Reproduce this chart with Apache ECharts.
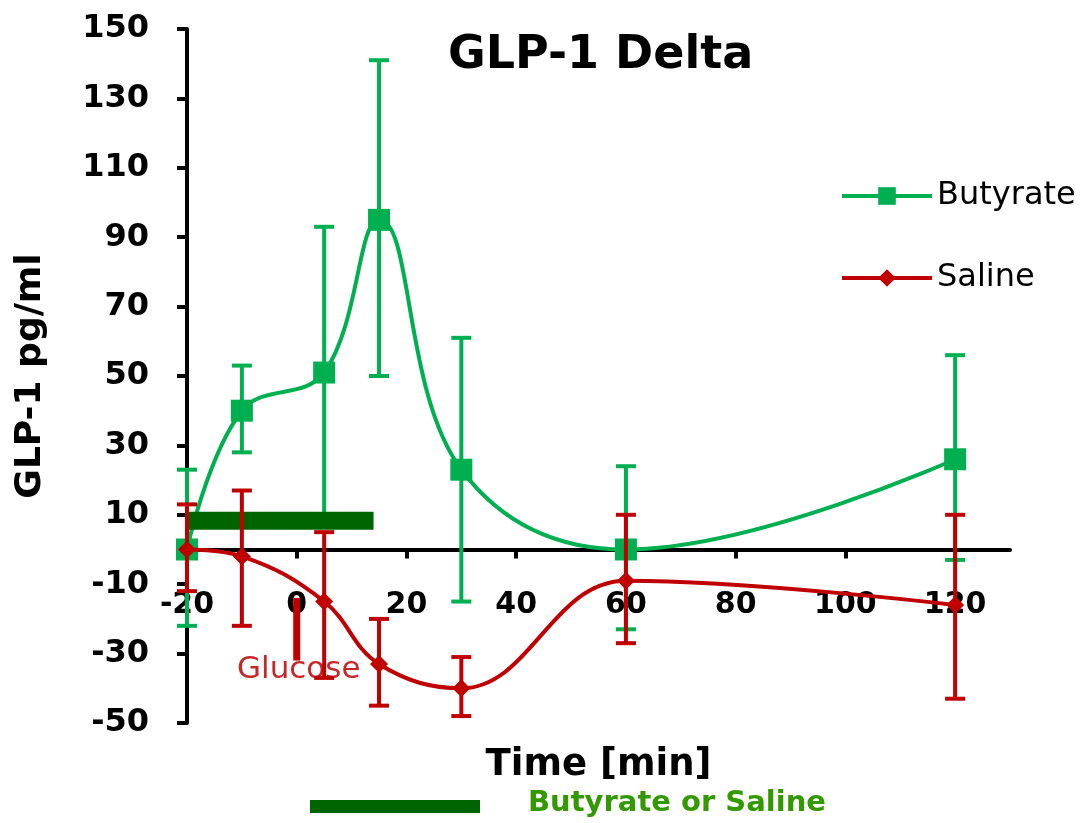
<!DOCTYPE html>
<html>
<head>
<meta charset="utf-8">
<script src="https://cdn.jsdelivr.net/npm/echarts@6/dist/echarts.min.js"></script>
<style>
html,body{margin:0;padding:0;background:#fff;}
#chart{width:1091px;height:823px;}
</style>
</head>
<body>
<div id="chart"></div>
<script>
// ---- data ----
const times = [-20, -10, 5, 15, 30, 60, 120];
const butyrate = [0, 40, 51, 95, 23, 0, 26];
const butyrateLow = [-22, 28, 8, 50, -15, -23, -3];
const butyrateHigh = [23, 53, 93, 141, 61, 24, 56];
const saline = [0, -2, -15, -33, -40, -9, -16];
const salineLow = [-12, -22, -37, -45, -48, -27, -43];
const salineHigh = [13, 17, 5, -20, -31, 10, 10];
const xTicks = [-20, 0, 20, 40, 60, 80, 100, 120];
const yTicks = [-50, -30, -10, 10, 30, 50, 70, 90, 110, 130, 150];
const infusion = [[-20, 8.3], [14, 8.3]];        // Butyrate or Saline infusion period
const glucoseMark = [[0, -14], [0, -32]];        // Glucose marker

const GREEN = '#00b050', RED = '#c00000', DARK = '#006400';
const FONT = 'DejaVu Sans';

function errorRender(color) {
  return function (params, api) {
    const x = api.value(0);
    const lo = api.coord([x, api.value(1)]);
    const hi = api.coord([x, api.value(2)]);
    const w = 10;
    const style = { stroke: color, lineWidth: 4 };
    return {
      type: 'group',
      children: [
        { type: 'line', shape: { x1: hi[0], y1: hi[1], x2: lo[0], y2: lo[1] }, style },
        { type: 'line', shape: { x1: hi[0] - w, y1: hi[1], x2: hi[0] + w, y2: hi[1] }, style },
        { type: 'line', shape: { x1: lo[0] - w, y1: lo[1], x2: lo[0] + w, y2: lo[1] }, style }
      ]
    };
  };
}

const chart = echarts.init(document.getElementById('chart'));
chart.setOption({
  animation: false,
  backgroundColor: '#fff',
  title: {
    text: 'GLP-1 Delta',
    left: 448, top: 33, padding: 0,
    textStyle: { fontFamily: FONT, fontWeight: 'bold', fontSize: 46, color: '#000' }
  },
  legend: {
    orient: 'vertical', left: 835, top: 175,
    itemWidth: 90, itemHeight: 22, itemGap: 50,
    data: ['Butyrate', 'Saline'],
    lineStyle: { width: 4 },
    textStyle: { fontFamily: FONT, fontSize: 32, color: '#000', padding: [0, 0, 0, 0] }
  },
  grid: { left: 187, right: 81, top: 29, bottom: 100, outerBoundsMode: 'none', containLabel: false },
  xAxis: {
    type: 'value', min: -20, max: 130, interval: 20,
    axisLine: { onZero: true, lineStyle: { color: '#000', width: 4 } },
    axisTick: { show: true, inside: false, length: 9, lineStyle: { color: '#000', width: 4 },
                customValues: xTicks.filter(v => v !== -20) },
    axisLabel: { customValues: xTicks, margin: -133, fontFamily: FONT, fontWeight: 'bold', fontSize: 30, color: '#000' },
    splitLine: { show: false },
    name: 'Time [min]', nameLocation: 'middle', nameGap: 24,
    nameTextStyle: { fontFamily: FONT, fontWeight: 'bold', fontSize: 37, color: '#000' }
  },
  yAxis: {
    type: 'value', min: -50, max: 150, interval: 20,
    axisLine: { show: true, onZero: false, lineStyle: { color: '#000', width: 4 } },
    axisTick: { show: true, length: 10, lineStyle: { color: '#000', width: 4 }, customValues: yTicks },
    axisLabel: { customValues: yTicks, margin: 38, fontFamily: FONT, fontWeight: 'bold', fontSize: 32, color: '#000' },
    splitLine: { show: false },
    name: 'GLP-1 pg/ml', nameLocation: 'middle', nameRotate: 90, nameGap: 138,
    nameTextStyle: { fontFamily: FONT, fontWeight: 'bold', fontSize: 36, color: '#000' }
  },
  series: [
    {
      name: 'ButyrateErr', type: 'custom', z: 2,
      renderItem: errorRender(GREEN),
      encode: { x: 0, y: [1, 2] },
      data: times.map((t, i) => [t, butyrateLow[i], butyrateHigh[i]])
    },
    {
      name: 'Butyrate', type: 'line', z: 3,
      data: times.map((t, i) => [t, butyrate[i]]),
      smooth: 0.4,
      symbol: 'rect', symbolSize: 22,
      lineStyle: { color: GREEN, width: 4 },
      itemStyle: { color: GREEN }
    },
    {
      name: 'Infusion', type: 'line', z: 4,
      data: infusion, symbol: 'none',
      lineStyle: { color: DARK, width: 18, cap: 'butt' }
    },
    {
      name: 'SalineErr', type: 'custom', z: 5,
      renderItem: errorRender(RED),
      encode: { x: 0, y: [1, 2] },
      data: times.map((t, i) => [t, salineLow[i], salineHigh[i]])
    },
    {
      name: 'Saline', type: 'line', z: 6,
      data: times.map((t, i) => [t, saline[i]]),
      smooth: 0.4,
      symbol: 'diamond', symbolSize: 18,
      lineStyle: { color: RED, width: 4 },
      itemStyle: { color: RED }
    },
    {
      name: 'Glucose', type: 'line', z: 6,
      data: glucoseMark, symbol: 'none',
      lineStyle: { color: RED, width: 7, cap: 'butt' }
    }
  ],
  graphic: [
    { type: 'text', left: 237, top: 654,
      style: { text: 'Glucose', fontFamily: FONT, fontSize: 31, fill: '#c62828' } },
    { type: 'rect', shape: { x: 310, y: 800, width: 170, height: 13 }, style: { fill: DARK } },
    { type: 'text', left: 528, top: 789,
      style: { text: 'Butyrate or Saline', fontFamily: FONT, fontWeight: 'bold', fontSize: 29, fill: '#339900' } }
  ]
});
</script>
</body>
</html>
